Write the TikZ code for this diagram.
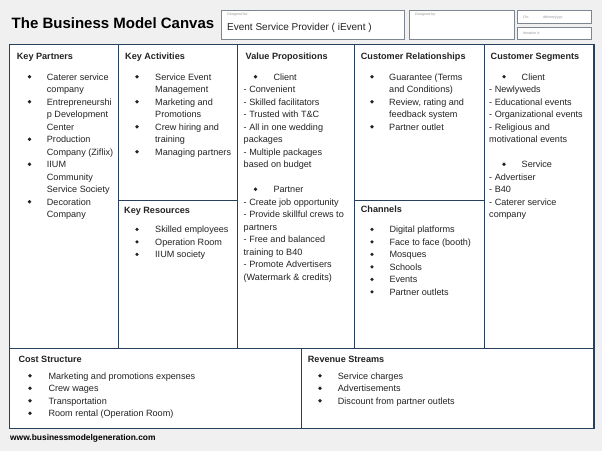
\documentclass[tikz,border=0pt]{standalone}
\usepackage{fontspec}
\setmainfont{Liberation Sans}
\definecolor{navy}{RGB}{38,64,94}
\definecolor{bgc}{RGB}{240,240,240}
\definecolor{ink}{RGB}{35,35,35}
\definecolor{boxgray}{RGB}{125,135,146}
\definecolor{tinygray}{RGB}{150,150,150}
\newcommand\itemlines[6]{%
 \foreach [count=\i] \k/\tx in {#6} {%
   \pgfmathsetmacro\yy{#5+(\i-1)*12.5}%
   \pgfmathsetmacro\yb{\yy-3.3}%
   \if d\k
     \node[txt] (#1\i) at (#2,\yy) {\tx};
   \else
     \node[txt] (#1\i) at (#4,\yy) {\tx};
   \fi
   \if b\k \node[bul] (#1b\i) at (#3,\yb) {}; \fi
 }}
\begin{document}
\begin{tikzpicture}[x=1pt,y=-1pt,
  txt/.style={inner sep=0pt,anchor=base west,font=\fontsize{9.1}{11}\selectfont,text=ink},
  hdr/.style={txt,font=\fontsize{9.1}{11}\selectfont\bfseries},
  bul/.style={circle,fill=ink,inner sep=0pt,minimum size=3.6pt},
  ln/.style={draw=navy,line width=1.1pt},
  hbox/.style={draw=boxgray,fill=white,line width=0.7pt},
  tiny/.style={inner sep=0pt,anchor=base west,font=\fontsize{3.6}{4}\selectfont\itshape,text=tinygray}]
\fill[bgc] (0,0) rectangle (602,451);
\useasboundingbox (0,0) rectangle (602,451);

% title and header boxes
\node[inner sep=0pt,anchor=base west,font=\fontsize{15}{17}\selectfont\bfseries,text=black] (title) at (11.5,28) {The Business Model Canvas};
\draw[hbox] (221,10) rectangle (404,39);
\node[tiny] (dfor) at (227,15.5) {Designed for:};
\node[inner sep=0pt,anchor=base west,font=\fontsize{10}{12}\selectfont,text=ink] (client) at (227,30) {Event Service Provider ( iEvent )};
\draw[hbox] (409,10) rectangle (514,39);
\node[tiny] (dby) at (415,15.5) {Designed by:};
\draw[hbox] (517,10) rectangle (591,23);
\node[tiny] (on) at (523,18) {On:};
\node[tiny] (date) at (543,18) {dd/mm/yyyy};
\draw[hbox] (517,27) rectangle (591,39);
\node[tiny] (iter) at (523,34.5) {Iteration \#:};

% canvas frame
\draw[fill=white,draw=navy,line width=1.8pt] (9.5,44.5) rectangle (594,428.5);
\draw[ln] (9.5,348.3) -- (594,348.3);
\draw[ln] (118.3,44.5) -- (118.3,348.3);
\draw[ln] (237.7,44.5) -- (237.7,348.3);
\draw[ln] (354.3,44.5) -- (354.3,348.3);
\draw[ln] (484.3,44.5) -- (484.3,348.3);
\draw[ln] (118.3,200.7) -- (237.7,200.7);
\draw[ln] (354.3,200.7) -- (484.3,200.7);
\draw[ln] (301.7,348.3) -- (301.7,428.5);

% headers
\node[hdr] (hkp) at (16.7,59) {Key Partners};
\node[hdr] (hka) at (125,59) {Key Activities};
\node[hdr] (hvp) at (245.5,59) {Value Propositions};
\node[hdr] (hcr) at (360.7,59) {Customer Relationships};
\node[hdr] (hcs) at (490.5,59) {Customer Segments};
\node[hdr] (hkr) at (124,213.5) {Key Resources};
\node[hdr] (hch) at (360.7,212) {Channels};
\node[hdr] (hcost) at (18.3,362.7) {Cost Structure};
\node[hdr] (hrev) at (307.7,362.7) {Revenue Streams};

% contents
\itemlines{kp}{46.7}{29.5}{46.7}{80}{b/Caterer service,c/company,b/Entrepreneurshi,c/p Development,c/Center,b/Production,c/Company (Ziflix),b/IIUM,c/Community,c/Service Society,b/Decoration,c/Company}
\itemlines{ka}{155}{137}{155}{80}{b/Service Event,c/Management,b/Marketing and,c/Promotions,b/Crew hiring and,c/training,b/Managing partners}
\itemlines{kr}{155}{137}{155}{232.7}{b/Skilled employees,b/Operation Room,b/IIUM society}
\itemlines{vp}{243.5}{255.5}{273.3}{80}{b/Client,d/- Convenient,d/- Skilled facilitators,d/- Trusted with T\&C,d/- All in one wedding,d/packages,d/- Multiple packages,d/based on budget,d/{},b/Partner,d/- Create job opportunity,d/- Provide skillful crews to,d/partners,d/- Free and balanced,d/training to B40,d/- Promote Advertisers,d/(Watermark \& credits)}
\itemlines{cr}{389}{372}{389}{80}{b/Guarantee (Terms,c/and Conditions),b/{Review, rating and},c/feedback system,b/Partner outlet}
\itemlines{ch}{389.3}{372}{389.3}{232.7}{b/Digital platforms,b/Face to face (booth),b/Mosques,b/Schools,b/Events,b/Partner outlets}
\itemlines{cs}{489}{504}{521.5}{80}{b/Client,d/- Newlyweds,d/- Educational events,d/- Organizational events,d/- Religious and,d/motivational events,d/{},b/Service,d/- Advertiser,d/- B40,d/- Caterer service,d/company}
\itemlines{co}{48.3}{30}{48.3}{379}{b/Marketing and promotions expenses,b/Crew wages,b/Transportation,b/Room rental (Operation Room)}
\itemlines{rv}{337.7}{320}{337.7}{379}{b/Service charges,b/Advertisements,b/Discount from partner outlets}

% footer
\node[inner sep=0pt,anchor=base west,font=\fontsize{8.4}{10}\selectfont\bfseries,text=black] (web) at (10,440.7) {www.businessmodelgeneration.com};
\end{tikzpicture}
\end{document}
